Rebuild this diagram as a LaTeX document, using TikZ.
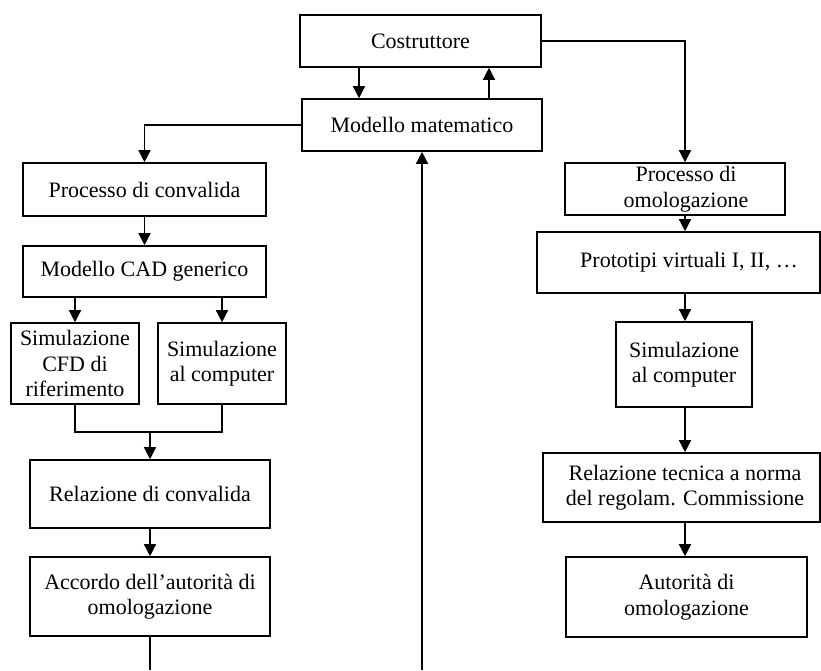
\documentclass[tikz,border=0pt]{standalone}
\usepackage{fontspec}
\setmainfont{Liberation Serif}
\usetikzlibrary{arrows.meta}
\begin{document}
\begin{tikzpicture}[x=1pt,y=-1pt,
  box/.style={draw=black,line width=1.6pt,fill=white,inner sep=0pt,align=center,
    font=\fontsize{22}{25.5}\selectfont},
  lbl/.style={inner sep=0pt,align=center,font=\fontsize{22}{25.5}\selectfont},
  conn/.style={line width=1.4pt,draw=black},
  arr/.style={conn,-{Triangle[width=12pt,length=12pt]}}]
\useasboundingbox[fill=white] (0,0) rectangle (821,670);
% top
\node[box,minimum width=241pt,minimum height=52pt] (cos) at (420.5,41) {Costruttore};
\node[box,minimum width=240pt,minimum height=52pt] (mm) at (422,125) {Modello matematico};
% left column
\node[box,minimum width=243pt,minimum height=53pt] (pc) at (144.5,189.5) {Processo di convalida};
\node[box,minimum width=243pt,minimum height=51pt] (cad) at (144.5,271.5) {Modello CAD generico};
\node[box,minimum width=128pt,minimum height=81pt] (cfd) at (75,363.5) {Simulazione\\CFD di\\riferimento};
\node[box,minimum width=128pt,minimum height=81pt] (sac) at (222,363.5) {Simulazione\\al computer};
\node[box,minimum width=240pt,minimum height=68pt] (rc) at (150,494) {Relazione di convalida};
\node[box,minimum width=240pt,minimum height=79pt] (acc) at (150,596.5) {Accordo dell’autorità di\\omologazione};
% right column
\node[box,minimum width=220pt,minimum height=52pt] (po) at (675,189) {};
\node[lbl] (potxt) at (686,189) {Processo di\\omologazione};
\node[box,minimum width=283pt,minimum height=61pt] (pv) at (678.5,262.5) {};
\node[lbl] (pvtxt) at (689,262.5) {Prototipi virtuali I, II, …};
\node[box,minimum width=136pt,minimum height=85pt] (sr) at (684,364.5) {Simulazione\\al computer};
\node[box,minimum width=277pt,minimum height=69pt] (rt) at (681.5,487.5) {};
\node[lbl] (rttxt) at (685,487.5) {Relazione tecnica a norma\\del regolam. Commissione};
\node[box,minimum width=241pt,minimum height=80pt] (aut) at (686.5,597) {Autorità di\\omologazione};
% coordinates
\coordinate (bl) at (150,670);
\coordinate (bm) at (422,670);
\coordinate (j1) at (75,432);
\coordinate (j2) at (222,432);
\coordinate (j3) at (150,432);
% connectors
\draw[arr] (cos.south -| 359,0) -- (mm.north -| 359,0);
\draw[arr] (mm.north -| 489,0) -- (cos.south -| 489,0);
\draw[arr] (cos.east) -| (po.north -| 685,0);
\draw[arr] (mm.west) -| (pc.north -| 144.5,0);
\draw[arr] (pc.south) -- (cad.north);
\draw[arr] (cad.south -| cfd.north) -- (cfd.north);
\draw[arr] (cad.south -| sac.north) -- (sac.north);
\draw[conn] (cfd.south) -- (j1) -- (j2) -- (sac.south);
\draw[arr] (j3) -- (rc.north -| j3);
\draw[arr] (rc.south) -- (acc.north);
\draw[conn] (acc.south) -- (bl);
\draw[arr] (bm) -- (mm.south);
\draw[arr] (po.south -| 685,0) -- (pv.north -| 685,0);
\draw[arr] (pv.south -| 685,0) -- (sr.north -| 685,0);
\draw[arr] (sr.south -| 685,0) -- (rt.north -| 685,0);
\draw[arr] (rt.south -| 685,0) -- (aut.north -| 685,0);
\end{tikzpicture}
\end{document}
